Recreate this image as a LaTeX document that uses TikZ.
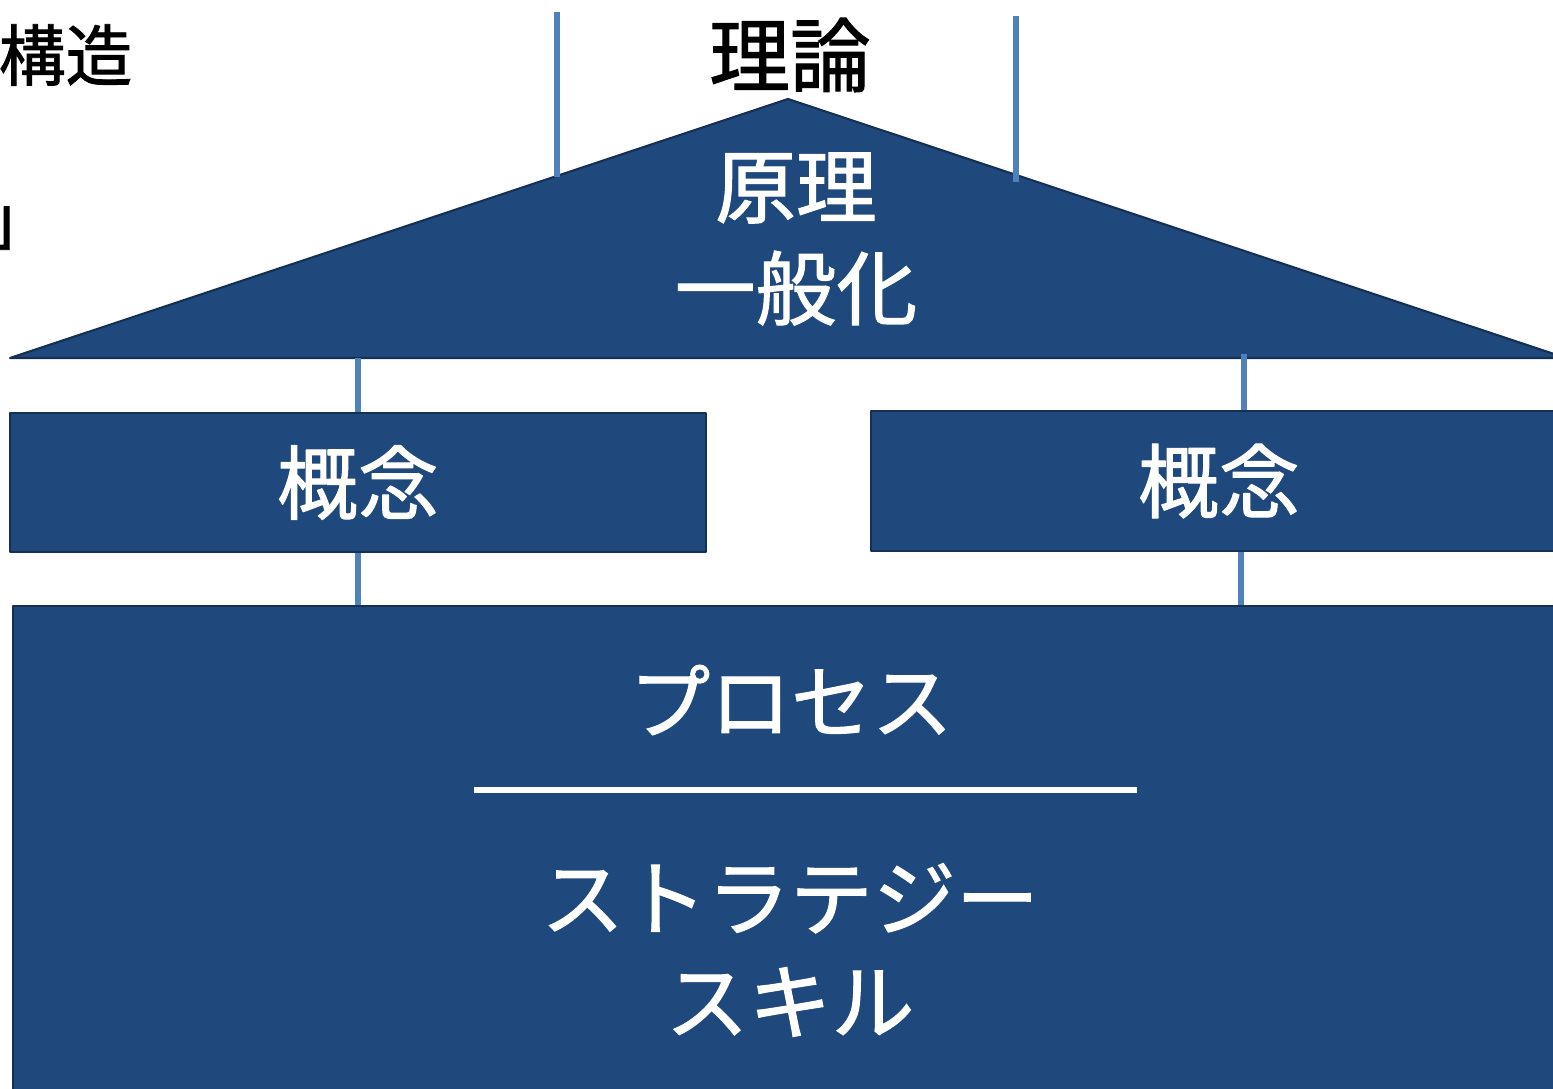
\documentclass[tikz,border=0pt]{standalone}
\usepackage{fontspec}
\newfontfamily\jp[FakeBold=1.3]{Noto Sans CJK JP}
\definecolor{roofblue}{RGB}{31,73,125}
\definecolor{edgeblue}{RGB}{22,48,84}
\definecolor{linkblue}{RGB}{79,129,189}
\begin{document}
\begin{tikzpicture}[x=1cm,y=-1cm,
    block/.style={fill=roofblue,draw=edgeblue,line width=0.6pt,line join=round},
    link/.style={linkblue,line width=1.6pt},
    big/.style={font=\jp\fontsize{23}{29}\selectfont,align=center,inner sep=0pt},
    small/.style={font=\jp\fontsize{19}{22}\selectfont,inner sep=0pt}]
    \useasboundingbox (0,0) rectangle (15.53,10.89);
    \clip (0,0) rectangle (15.53,10.89);
    % roof
    \coordinate (apex) at (7.88,0.99);
    \coordinate (eaveL) at (0.10,3.58);
    \coordinate (eaveR) at (15.66,3.58);
    \draw[block] (eaveL)--(apex)--(eaveR)--cycle;
    \node[big,text=white] (principle) at (7.96,2.39) {原理\\一般化};
    % columns and floor
    \node[block,big,text=white,minimum width=6.96cm,minimum height=1.39cm] (conceptL) at (3.58,4.825) {概念};
    \node[block,big,text=white,minimum width=6.96cm,minimum height=1.40cm] (conceptR) at (12.19,4.81) {概念};
    \node[block,anchor=north west,minimum width=15.56cm,minimum height=5.15cm] (floor) at (0.12,6.05) {};
    \node[big,text=white] (process) at (7.91,7.00) {プロセス};
    \draw[white,line width=1.5pt](4.74,7.90)--(11.37,7.90);
    \node[big,text=white,font=\jp\fontsize{23.6}{29.5}\selectfont] (strategy) at (7.90,9.50) {ストラテジー\\スキル};
    % texts above
    \node[big] (theory) at (7.90,0.55) {理論};
    \node[small,anchor=east] (structure) at (1.33,0.55) {構造};
    \node[small,anchor=base west] (bracket) at (-0.15,2.44) {」};
    % ties
    \coordinate (tieL) at (5.57,0.12);
    \coordinate (tieLend) at (5.57,1.77);
    \coordinate (tieR) at (10.16,0.16);
    \coordinate (tieRend) at (10.16,1.82);
    \draw[link](tieL)--(tieLend);
    \draw[link](tieR)--(tieRend);
    \draw[link](conceptL.north)--(conceptL.north |- eaveL);
    \draw[link](conceptL.south)--(conceptL.south |- floor.north);
    \draw[link]([xshift=2.5mm]conceptR.north)--([xshift=2.5mm,yshift=0.4mm]conceptR.north |- eaveR);
    \draw[link]([xshift=2.2mm]conceptR.south)--([xshift=2.2mm]conceptR.south |- floor.north);
\end{tikzpicture}
\end{document}
